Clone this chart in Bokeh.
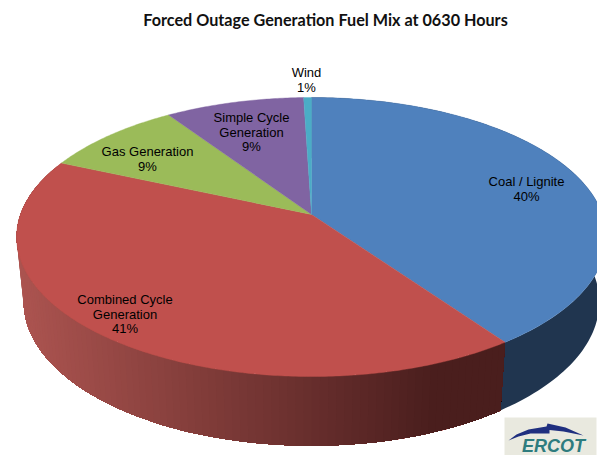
import math
from bokeh.plotting import figure
from bokeh.embed import file_html
from bokeh.resources import INLINE
from bokeh.core.properties import value

title = "Forced Outage Generation Fuel Mix at 0630 Hours"
categories = ["Coal / Lignite", "Combined Cycle\nGeneration", "Gas Generation", "Simple Cycle\nGeneration", "Wind"]
shares = [40.2, 41.4, 9.0, 8.9, 0.5]
pct_labels = ["40%", "41%", "9%", "9%", "1%"]
colors = ["#4F81BD", "#C0504D", "#9BBB59", "#8064A2", "#4BACC6"]
label_x = [526, 124.5, 147, 251, 306]
label_y = [181, 299, 151, 117, 72]

W, H = 597, 455
AX, AY = 311, 214      # projected pie centre
SX, SY, K = 291, 135.9, 0.1613
DEPTH, NARROW = 65, 0.976
LINE_H = 14.6

p = figure(width=W, height=H, x_range=(0, W), y_range=(H, 0), toolbar_location=None,
           output_backend="svg", min_border=0, outline_line_color=None,
           background_fill_color="white", border_fill_color="white")
p.axis.visible = False
p.grid.visible = False

def top(frac):
    a = 2 * math.pi * frac
    X, Y = math.sin(a), math.cos(a)
    d = 1 + K * Y
    return AX + SX * X / d, AY - SY * Y / d

def bottom(frac):
    x, y = top(frac)
    return AX + (x - AX) * NARROW, y + DEPTH + (y - 237) * 0.03

def mix(c1, c2, t):
    return "#%02x%02x%02x" % tuple(round(a + (b - a) * t) for a, b in zip(c1, c2))

def wall(f0, f1, steps=120):
    fr = [f0 + (f1 - f0) * k / steps for k in range(steps + 1)]
    upper = [top(f) for f in fr]
    lower = [bottom(f) for f in reversed(fr)]
    pts = upper + lower
    return [q[0] for q in pts], [q[1] for q in pts]

# cumulative boundaries
edges = [0.0]
for s in shares:
    edges.append(edges[-1] + s / sum(shares))

# side wall: coal
wx, wy = wall(0.0, edges[1])
p.patch(wx, wy, fill_color="#20354F", line_color=None)

# side wall: combined cycle, painted from the far end so that bands overlap
light, dark = (172, 84, 80), (74, 30, 29)
n = 110
for i in range(n, 0, -1):
    f = edges[1] + (edges[2] - edges[1]) * i / n
    wx, wy = wall(edges[1], f, steps=max(12, i))
    t = min(1, max(0, (top(f)[0] - 16) / (430 - 16)))
    p.patch(wx, wy, fill_color=mix(light, dark, t), line_color=None)

# top face
for i, col in enumerate(colors):
    steps = max(8, int(shares[i] * 6))
    fr = [edges[i] + (edges[i + 1] - edges[i]) * k / steps for k in range(steps + 1)]
    pts = [top(f) for f in fr]
    p.patch([AX] + [q[0] for q in pts], [AY] + [q[1] for q in pts],
            fill_color=col, line_color=col, line_width=0.4)

# labels
for name, pct, lx, ly in zip(categories, pct_labels, label_x, label_y):
    lines = name.split("\n") + [pct]
    p.text([lx] * len(lines), [ly + LINE_H * j for j in range(len(lines))], text=lines,
           text_align="center", text_baseline="middle", text_color="#000000",
           text_font=value("Liberation Sans"), text_font_size="13px")

p.text([325], [19], text=[title], text_align="center", text_baseline="middle",
       text_color="#111111", text_font=value("Lato"), text_font_size="16.2px",
       text_font_style="bold")

# logo
p.quad(left=[504], right=[596], top=[417], bottom=[455], fill_color="#E9E9DF", line_color=None)
p.patch([508, 516, 528, 546, 547, 565, 583, 563, 549, 549, 530, 518],
        [440, 434, 429, 426, 423, 427, 435, 431, 429.5, 433, 433, 436],
        fill_color="#1F2F7F", line_color=None)
p.text([553], [445], text=["ERCOT"], text_align="center", text_baseline="middle",
       text_color="#2E7C7E", text_font=value("Liberation Sans"), text_font_size="18px",
       text_font_style="bold italic")

open("out.html", "w").write(file_html(p, INLINE))
